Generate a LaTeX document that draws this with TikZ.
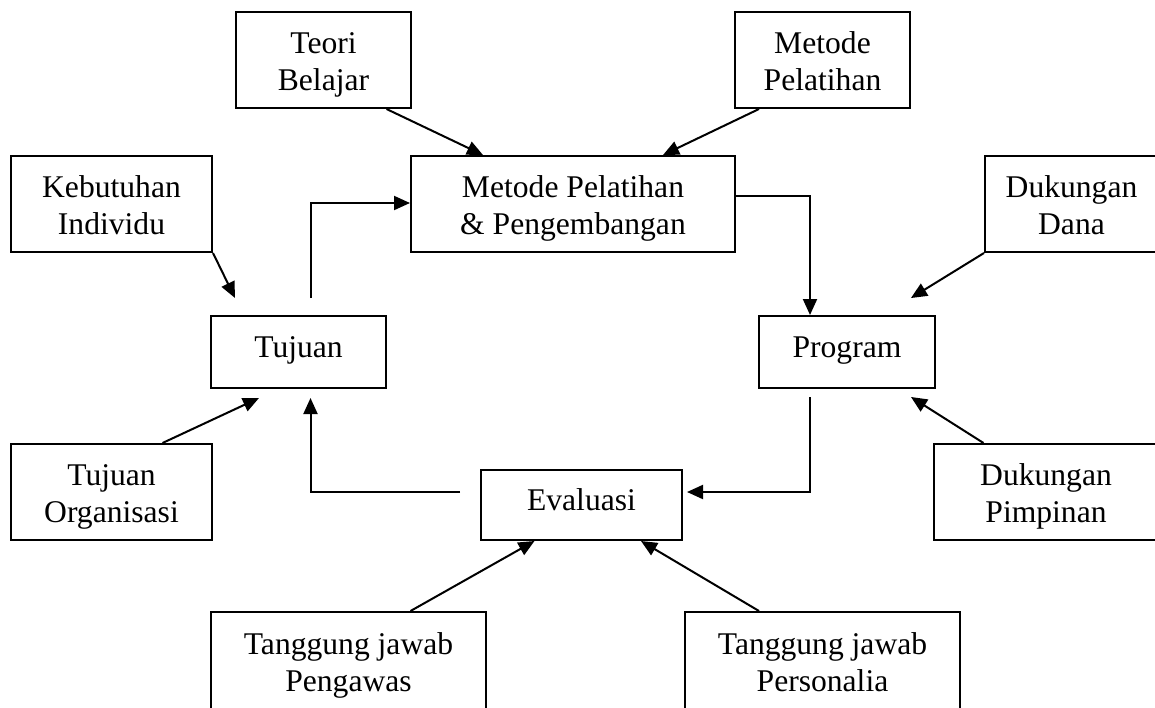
\documentclass[tikz,border=0pt]{standalone}
\usepackage{fontspec}
\setmainfont{Liberation Serif}
\usetikzlibrary{arrows.meta,calc}
\newcommand{\ls}{\rule[-7pt]{0pt}{29.7pt}}
\newcommand{\lf}{\rule[-7pt]{0pt}{37.7pt}}
\begin{document}
\begin{tikzpicture}[x=1pt,y=-1pt,
  box/.style={draw=black,line width=2pt,inner sep=0pt,align=center,
    font=\fontsize{31.6}{37.5}\selectfont},
  single/.style={box,text height=25pt,text depth=15pt},
  conn/.style={draw=black,line width=2pt,-{Triangle[length=16pt,width=14pt]}}]
\useasboundingbox (0,0) rectangle (1155,707);
\fill[white] (0,0) rectangle (1155,707);
\clip (0,0) rectangle (1155,707);
% boxes
\node[box,minimum width=175pt,minimum height=96pt] (teori) at (323.5,60) {\lf Teori\\\ls Belajar};
\node[box,minimum width=175pt,minimum height=96pt] (metode) at (822.5,60) {\lf Metode\\\ls Pelatihan};
\node[box,minimum width=201pt,minimum height=96pt] (kebutuhan) at (111.5,204) {\lf Kebutuhan\\\ls Individu};
\node[box,minimum width=324pt,minimum height=96pt] (mpp) at (573,204) {\lf Metode Pelatihan\\\ls \& Pengembangan};
\node[box,minimum width=173pt,minimum height=96pt] (dana) at (1071.5,204) {\lf Dukungan\\\ls Dana};
\node[single,minimum width=175pt,minimum height=72pt] (tujuan) at (298.5,352) {Tujuan};
\node[single,minimum width=176pt,minimum height=72pt] (program) at (847,352) {Program};
\node[box,minimum width=201pt,minimum height=96pt] (org) at (111.5,492) {\lf Tujuan\\\ls Organisasi};
\node[single,minimum width=201pt,minimum height=70pt] (eval) at (581.5,505) {Evaluasi};
\node[box,minimum width=224pt,minimum height=96pt] (pimpinan) at (1046,492) {\lf Dukungan\\\ls Pimpinan};
\node[box,minimum width=275pt,minimum height=98pt] (pengawas) at (348.5,661) {\lf Tanggung jawab\\\ls Pengawas};
\node[box,minimum width=275pt,minimum height=98pt] (personalia) at (822.5,661) {\lf Tanggung jawab\\\ls Personalia};
% connectors
\draw[conn] ($(teori.south)+(63,0)$) -- ($(mpp.north)+(-90,0)$);
\draw[conn] ($(metode.south)+(-63.5,0)$) -- ($(mpp.north)+(90,0)$);
\draw[conn] (kebutuhan.south east) -- ($(tujuan.north west)+(25,-17)$);
\draw[conn] ($(tujuan.north)+(12,-17)$) |- ($(mpp.west)+(0,-1)$);
\draw[conn] ($(mpp.east)+(0,-8)$) -| ($(program.north)+(-37,0)$);
\draw[conn] (dana.south west) -- ($(program.north east)+(-25,-17)$);
\draw[conn] ($(program.south)+(-37,8)$) |- ($(eval.east)+(4,-13)$);
\draw[conn] ($(pimpinan.north west)+(50.5,0)$) -- ($(program.south east)+(-25,8)$);
\draw[conn] ($(eval.west)+(-20,-13)$) -| ($(tujuan.south)+(12,9)$);
\draw[conn] ($(org.north)+(51,0)$) -- ($(tujuan.south west)+(49,9)$);
\draw[conn] ($(pengawas.north)+(62,0)$) -- ($(eval.south)+(-47,0)$);
\draw[conn] ($(personalia.north)+(-63.5,0)$) -- ($(eval.south)+(59.5,0)$);
\end{tikzpicture}
\end{document}
